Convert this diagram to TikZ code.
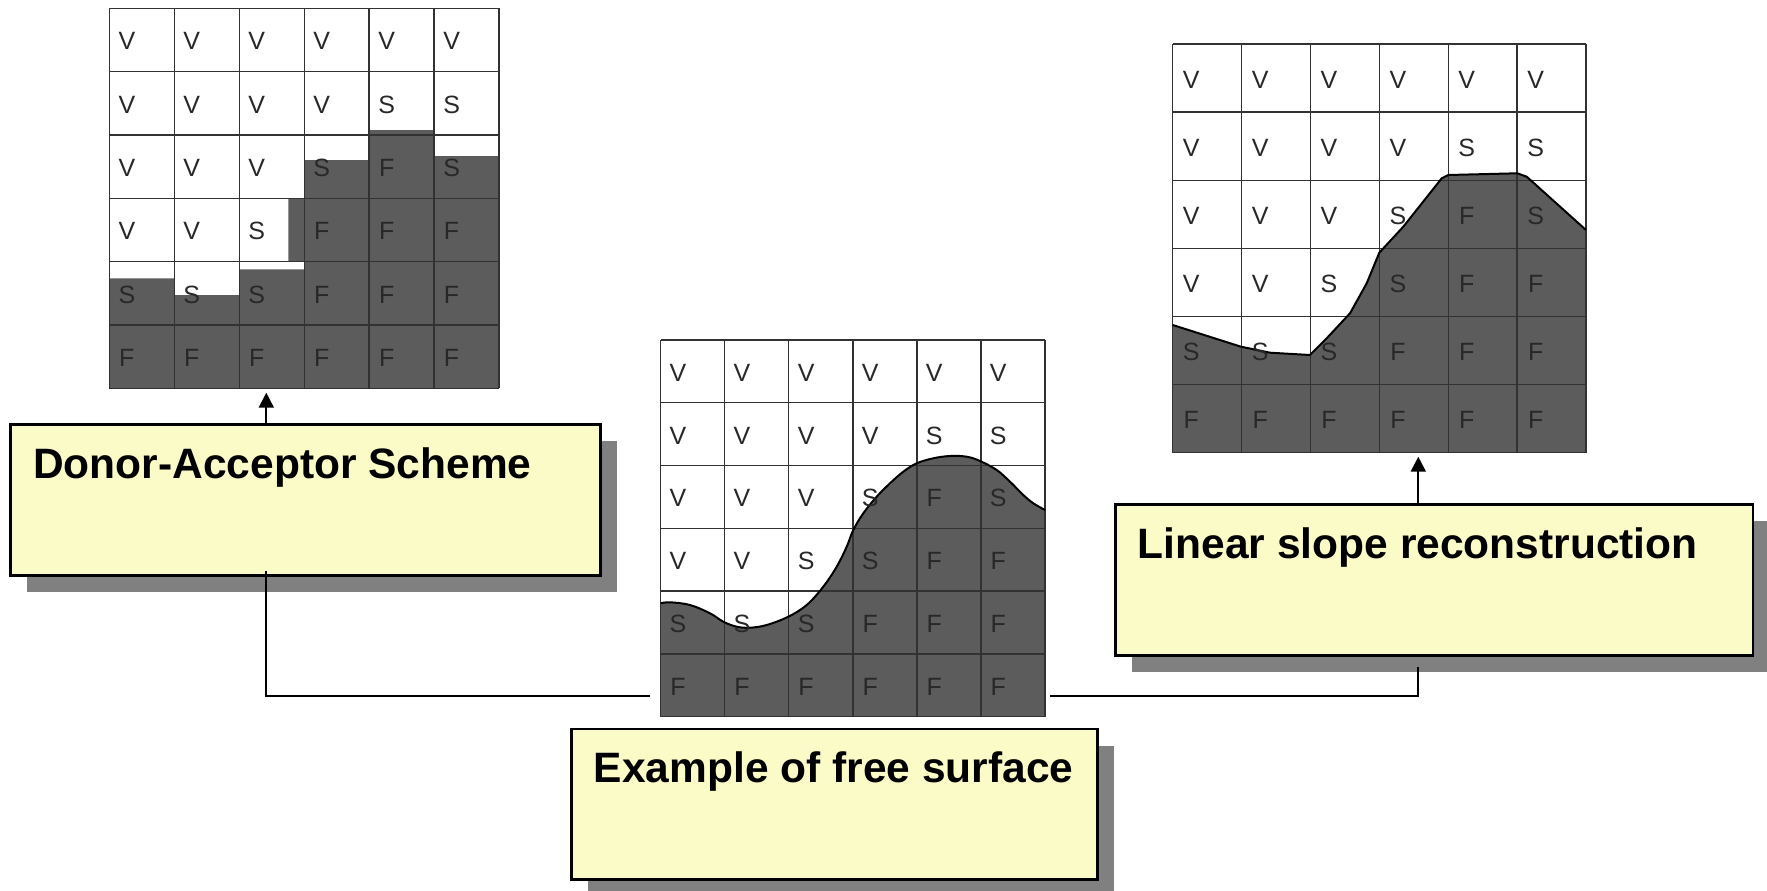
\documentclass[tikz,border=0pt]{standalone}
\usepackage{fontspec}
\setmainfont{Liberation Sans}
\usetikzlibrary{arrows.meta,shadows,calc}
\definecolor{boxfill}{RGB}{251,251,200}
\definecolor{shadowgray}{RGB}{128,128,128}
\definecolor{liquid}{RGB}{92,92,92}
\definecolor{gridline}{RGB}{50,50,50}
\definecolor{lettercol}{RGB}{40,40,40}
\tikzset{
  labelbox/.style={draw=black, line width=2.5pt, fill=boxfill, inner xsep=22.7pt, inner ysep=0pt,
    anchor=north west, text height=54pt, text depth=96.7pt,
    font=\fontsize{42.5}{50}\selectfont\bfseries,
    drop shadow={shadow xshift=16.5pt, shadow yshift=-16.7pt, fill=shadowgray, opacity=1}},
  conn/.style={line width=2pt, draw=black},
  arr/.style={conn, -{Triangle[length=15pt,width=15pt]}},
  cellgrid/.style={draw=gridline, line width=1.3pt},
  liquidfill/.style={fill=liquid},
  surface/.style={draw=black, line width=2pt, line join=round},
  cellletter/.style={font=\fontsize{25}{25}\selectfont, text=lettercol, inner sep=0pt},
  gridframe/.style={inner sep=0pt, outer sep=0pt, anchor=north west}
}
% #1 name, #2 x0, #3 y0, #4 cell width, #5 cell height
\newcommand\cellgridof[5]{%
  \foreach \cc in {0,...,6} \draw[cellgrid] (#2+#4*\cc,#3) -- (#2+#4*\cc,#3+6*#5);
  \foreach \rr in {0,...,6} \draw[cellgrid] (#2,#3+#5*\rr) -- (#2+6*#4,#3+#5*\rr);
}
\newcommand\cellletters[6]{%
  \foreach \row [count=\r from 0] in {#6} {
    \foreach \L [count=\c from 0] in \row {
      \node[cellletter] (#1-\r-\c) at (#2+#4*\c+0.27*#4, #3+#5*\r+0.52*#5) {\L};
    }
  }
}
\begin{document}
\begin{tikzpicture}[x=1pt,y=-1pt]
\useasboundingbox (0,0) rectangle (1767,891);

% ---------- grid frames (named) ----------
\node[gridframe, minimum width=389.7pt, minimum height=380pt] (g1) at (109.3,8.3) {};
\node[gridframe, minimum width=384.3pt, minimum height=376.7pt] (g2) at (660.7,340) {};
\node[gridframe, minimum width=413.3pt, minimum height=408.7pt] (g3) at (1172.7,44) {};

% ---------- grid 1: donor-acceptor ----------
\fill[liquidfill] (109.3,388.3) -- (109.3,278.3) -- (174.25,278.3) -- (174.25,295) -- (239.2,295)
  -- (239.2,269.3) -- (304.15,269.3) -- (304.15,261.6) -- (288.3,261.6) -- (288.3,198.3)
  -- (304.15,198.3) -- (304.15,160) -- (369.1,160) -- (369.1,130) -- (434.05,130)
  -- (434.05,156) -- (499,156) -- (499,388.3) -- cycle;
\cellgridof{g1}{109.3}{8.3}{64.95}{63.33}
\cellletters{g1}{109.3}{8.3}{64.95}{63.33}{{V,V,V,V,V,V},{V,V,V,V,S,S},{V,V,V,S,F,S},{V,V,S,F,F,F},{S,S,S,F,F,F},{F,F,F,F,F,F}}

% ---------- grid 2: free surface ----------
\fill[liquidfill] plot[smooth, tension=0.6] coordinates {(660.7,603.3) (670,602.3) (690,605) (710,613.3)
  (723.3,621.7) (736.7,626.7) (750,627.7) (766.7,625) (788.3,616.7) (806.7,605) (823.3,586.7)
  (836.7,566.7) (846.7,546.7) (853.3,530) (863.3,513.3) (876.7,496.7) (890,483.3) (903.3,471.7)
  (916.7,463.3) (933.3,458.3) (950,456) (966.7,456.7) (980,461) (996.7,470) (1010,481.7)
  (1023.3,495) (1033.3,503.3) (1045,510)} -- (1045,716.7) -- (660.7,716.7) -- cycle;
\cellgridof{g2}{660.7}{340}{64.05}{62.78}
\draw[surface] plot[smooth, tension=0.6] coordinates {(660.7,603.3) (670,602.3) (690,605) (710,613.3)
  (723.3,621.7) (736.7,626.7) (750,627.7) (766.7,625) (788.3,616.7) (806.7,605) (823.3,586.7)
  (836.7,566.7) (846.7,546.7) (853.3,530) (863.3,513.3) (876.7,496.7) (890,483.3) (903.3,471.7)
  (916.7,463.3) (933.3,458.3) (950,456) (966.7,456.7) (980,461) (996.7,470) (1010,481.7)
  (1023.3,495) (1033.3,503.3) (1045,510)};
\cellletters{g2}{660.7}{340}{64.05}{62.78}{{V,V,V,V,V,V},{V,V,V,V,S,S},{V,V,V,S,F,S},{V,V,S,S,F,F},{S,S,S,F,F,F},{F,F,F,F,F,F}}

% ---------- grid 3: linear slope ----------
\fill[liquidfill] (1172.7,325) -- (1241,346.7) -- (1270,352.7) -- (1310,355) -- (1326.7,338.3)
  -- (1350,313.3) -- (1366.7,283.3) -- (1379.3,252.7) -- (1403.3,226.7) -- (1441.7,178.3)
  -- (1448.3,175) -- (1517.3,173.3) -- (1526.7,176.7) -- (1586,230) -- (1586,452.7)
  -- (1172.7,452.7) -- cycle;
\cellgridof{g3}{1172.7}{44}{68.88}{68.12}
\draw[surface] (1172.7,325) -- (1241,346.7) -- (1270,352.7) -- (1310,355) -- (1326.7,338.3)
  -- (1350,313.3) -- (1366.7,283.3) -- (1379.3,252.7) -- (1403.3,226.7) -- (1441.7,178.3)
  -- (1448.3,175) -- (1517.3,173.3) -- (1526.7,176.7) -- (1586,230);
\cellletters{g3}{1172.7}{44}{68.88}{68.12}{{V,V,V,V,V,V},{V,V,V,V,S,S},{V,V,V,S,F,S},{V,V,S,S,F,F},{S,S,S,F,F,F},{F,F,F,F,F,F}}

% ---------- label boxes ----------
\node[labelbox] (box1) at (9.3,423.3) {\makebox[544.6pt][l]{Donor-Acceptor Scheme}};
\node[labelbox] (box2) at (570,727.7) {\makebox[480.6pt][l]{Example of free surface}};
\node[labelbox] (box3) at (1114,503.3) {\makebox[592.3pt][l]{Linear slope reconstruction}};

% ---------- connectors ----------
\coordinate (a1) at (266.3,0);
\coordinate (a3) at (1418.3,0);
\coordinate (hl) at (0,695.5);
\draw[arr, shorten >=4.4pt] (a1 |- box1.north) -- (a1 |- g1.south);
\draw[arr, shorten >=4pt] (a3 |- box3.north) -- (a3 |- g3.south);
\draw[conn, shorten <=-6pt, shorten >=10.7pt] (a1 |- box1.south) |- (g2.west |- hl);
\draw[conn, shorten <=5pt, shorten >=10pt] (g2.east |- hl) -| (a3 |- box3.south);
\end{tikzpicture}
\end{document}
